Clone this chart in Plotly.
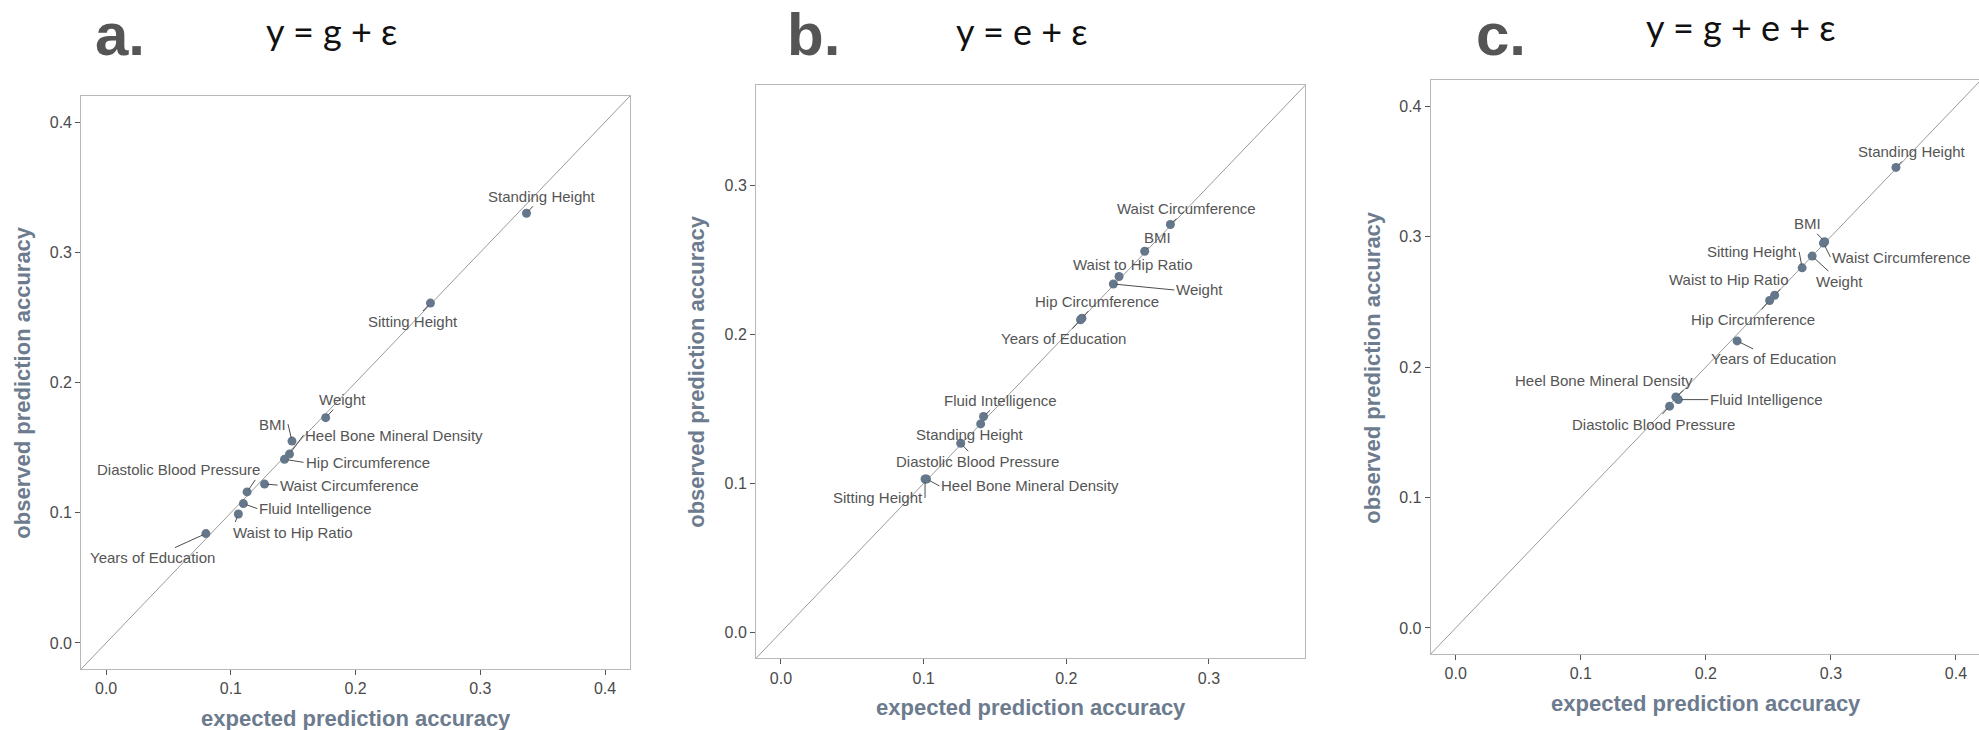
import plotly.graph_objects as go

# ---------------- data ----------------
TRAITS_A = ["Standing Height", "Sitting Height", "Weight", "BMI", "Heel Bone Mineral Density",
            "Hip Circumference", "Diastolic Blood Pressure", "Waist Circumference",
            "Fluid Intelligence", "Waist to Hip Ratio", "Years of Education"]
EXPECTED_A = [0.337, 0.260, 0.176, 0.149, 0.147, 0.143, 0.113, 0.127, 0.110, 0.106, 0.080]
OBSERVED_A = [0.330, 0.261, 0.173, 0.155, 0.145, 0.141, 0.116, 0.122, 0.107, 0.099, 0.084]

TRAITS_B = ["Waist Circumference", "BMI", "Waist to Hip Ratio", "Weight", "Hip Circumference",
            "Years of Education", "Fluid Intelligence", "Standing Height",
            "Diastolic Blood Pressure", "Heel Bone Mineral Density", "Sitting Height"]
EXPECTED_B = [0.273, 0.255, 0.237, 0.233, 0.211, 0.210, 0.142, 0.140, 0.126, 0.102, 0.101]
OBSERVED_B = [0.274, 0.256, 0.239, 0.234, 0.211, 0.210, 0.145, 0.140, 0.127, 0.103, 0.103]

TRAITS_C = ["Standing Height", "BMI", "Waist Circumference", "Weight", "Sitting Height",
            "Waist to Hip Ratio", "Hip Circumference", "Years of Education",
            "Heel Bone Mineral Density", "Fluid Intelligence", "Diastolic Blood Pressure"]
EXPECTED_C = [0.352, 0.295, 0.294, 0.285, 0.277, 0.255, 0.251, 0.225, 0.176, 0.178, 0.171]
OBSERVED_C = [0.353, 0.296, 0.295, 0.285, 0.276, 0.255, 0.251, 0.220, 0.177, 0.175, 0.170]

TICKS_A = [0.0, 0.1, 0.2, 0.3, 0.4]
TICKS_B = [0.0, 0.1, 0.2, 0.3]
TICKS_C = [0.0, 0.1, 0.2, 0.3, 0.4]
RANGE_A = [-0.02, 0.42]
RANGE_B = [-0.0175, 0.3675]
RANGE_C = [-0.02, 0.42]

LETTERS = ["a.", "b.", "c."]
FORMULAS = ["y = g + ε", "y = e + ε", "y = g + e + ε"]
XTITLE = "expected prediction accuracy"
YTITLE = "observed prediction accuracy"

# ---------------- label placement (pixel offsets from point) ----------------
LAB_A = [("center", 16, -17), ("center", -17, 18), ("center", 17, -18), ("right", -4, -17),
         ("left", 14, -19), ("left", 19, 3), ("right", 15, -22), ("left", 13, 1),
         ("left", 14, 5), ("left", -7, 18), ("center", -53, 24)]
LAB_B = [("center", 16, -16), ("center", 13, -14), ("center", 13, -12), ("left", 61, 6),
         ("center", 15, -17), ("center", -17, 19), ("center", 17, -16), ("center", -11, 11),
         ("center", 17, 18), ("left", 13, 7), ("right", 0, 19)]
LAB_C = [("center", 16, -16), ("center", -17, -18), ("left", 7, 14), ("center", 27, 25),
         ("right", -3, -16), ("right", 15, -16), ("center", -17, 19), ("center", 36, 18),
         ("right", 19, -17), ("left", 30, 0), ("center", -16, 18)]

W, H = 1979, 730
FONT = "Liberation Sans, Arial, Helvetica, sans-serif"
MARKER = "#65778b"
TITLECOL = "#6c7b8e"
TEXTCOL = "#555555"


def px(x):
    return x / W


def py(y):
    return 1 - y / H


# plot boxes in pixels: left, right, top, bottom
BOX_A = (81.2, 630.0, 96.0, 669.0)
BOX_B = (756.0, 1305.2, 85.3, 658.3)
BOX_C = (1430.7, 1979.0, 80.0, 654.0)
FULLW = 550.3
# panel c is cut off at the right edge of the image
RANGE_CX = [RANGE_C[0], RANGE_C[0] + (RANGE_C[1] - RANGE_C[0]) * (BOX_C[1] - BOX_C[0]) / FULLW]

panels = [
    (TRAITS_A, EXPECTED_A, OBSERVED_A, TICKS_A, RANGE_A, RANGE_A, BOX_A, LAB_A, "", ""),
    (TRAITS_B, EXPECTED_B, OBSERVED_B, TICKS_B, RANGE_B, RANGE_B, BOX_B, LAB_B, "2", "2"),
    (TRAITS_C, EXPECTED_C, OBSERVED_C, TICKS_C, RANGE_CX, RANGE_C, BOX_C, LAB_C, "3", "3"),
]

fig = go.Figure()
annotations = []
layout = {}

# header positions (pixels): letter left, letter center y, formula center x, formula center y
HEAD = [(94, 34.5, 331, 31), (786, 35, 1022, 31), (1475, 34, 1741, 27)]

for i, (tr, ex, ob, ticks, xr, yr, box, lab, xs, ys) in enumerate(panels):
    l, r, t, b = box
    xname, yname = "x" + xs, "y" + ys
    lo = min(xr[0], yr[0])
    hi = max(xr[1], yr[1])
    fig.add_trace(go.Scatter(x=[lo, hi], y=[lo, hi], mode="lines",
                             line=dict(color="#9a9a9a", width=1),
                             xaxis=xname, yaxis=yname, showlegend=False, hoverinfo="skip"))
    fig.add_trace(go.Scatter(x=ex, y=ob, mode="markers", text=tr,
                             marker=dict(color=MARKER, size=9),
                             xaxis=xname, yaxis=yname, showlegend=False))
    axcommon = dict(showgrid=False, zeroline=False, showline=True, mirror=True,
                    linecolor="#b8b8b8", linewidth=1, ticks="outside", ticklen=5,
                    tickcolor="#555555", tickwidth=1, tickvals=ticks, tickformat=".1f",
                    tickfont=dict(family=FONT, size=16, color="#4a4a4a"))
    layout["xaxis" + xs] = dict(domain=[px(l), px(r)], range=xr, anchor=yname, **axcommon)
    layout["yaxis" + ys] = dict(domain=[py(b), py(t)], range=yr, anchor=xname, **axcommon)

    for name, xv, yv, (anc, dx, dy) in zip(tr, ex, ob, lab):
        annotations.append(dict(x=xv, y=yv, xref=xname, yref=yname, text=name,
                                showarrow=True, arrowhead=0, arrowwidth=1, arrowcolor="#4d4d4d",
                                ax=dx, ay=dy, xanchor=anc, yanchor="middle", standoff=3,
                                font=dict(family=FONT, size=15, color=TEXTCOL)))
    # axis titles
    annotations.append(dict(x=px((l + l + FULLW) / 2), y=py(b + 49), xref="paper", yref="paper",
                            text="<b>" + XTITLE + "</b>", showarrow=False, xanchor="center",
                            yanchor="middle", font=dict(family=FONT, size=22, color=TITLECOL)))
    annotations.append(dict(x=px(l - 59), y=py((t + b) / 2), xref="paper", yref="paper",
                            text="<b>" + YTITLE + "</b>", showarrow=False, textangle=-90,
                            xanchor="center", yanchor="middle",
                            font=dict(family=FONT, size=22, color=TITLECOL)))
    # headers
    lx, ly, fx, fy = HEAD[i]
    annotations.append(dict(x=px(lx), y=py(ly), xref="paper", yref="paper", text="<b>" + LETTERS[i] + "</b>",
                            showarrow=False, xanchor="left", yanchor="middle", borderpad=0,
                            font=dict(family=FONT, size=60, color="#555555")))
    annotations.append(dict(x=px(fx), y=py(fy), xref="paper", yref="paper", text=FORMULAS[i],
                            showarrow=False, xanchor="center", yanchor="middle",
                            font=dict(family="Lato, Open Sans, sans-serif", size=36, color="#111111")))

fig.update_layout(width=W, height=H, margin=dict(l=0, r=0, t=0, b=0),
                  paper_bgcolor="white", plot_bgcolor="white",
                  annotations=annotations, **layout)
fig.write_html("out.html")
